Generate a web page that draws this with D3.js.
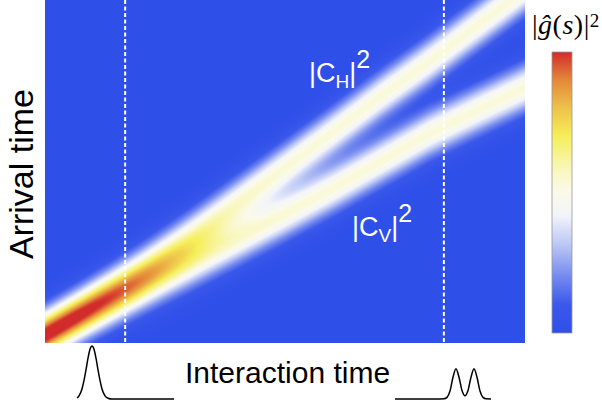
<!DOCTYPE html>
<html>
<head>
<meta charset="utf-8">
<script src="https://cdn.jsdelivr.net/npm/d3@7"></script>
<style>
  body { margin: 0; background: #fff; }
  svg { display: block; }
</style>
</head>
<body>
<div id="chart"></div>
<script>
// interaction time knots (arb. units) and the arrival time of each band centre
const interactionKnots = [0, 1, 2, 3, 4, 5, 6, 7, 8, 9, 10];
const arrivalH = [0.23, 1.17, 2.1, 3.08, 4.1, 5.12, 6.15, 7.2, 8.2, 9.25, 10.3];
const arrivalV = [0.23, 0.9, 1.58, 2.28, 3.0, 3.74, 4.5, 5.3, 6.1, 6.78, 7.45];
const bandPeak = [0.53, 0.53];   // |C_H|^2, |C_V|^2 peak of each band
const bandSigma = 0.47;          // band half width, arrival units
const dashedTimes = [1.67, 8.31];

// colour map of the colour bar
const cmapStops = [0, 0.1, 0.2, 0.32, 0.42, 0.5, 0.58, 0.7, 0.8, 0.9, 1.0];
const cmapColors = ["#2f4fe9", "#3a58ea", "#7489ef", "#bfcaf6", "#f3f4fa", "#fafaea",
                    "#f9f7bd", "#f6ee5a", "#eec24a", "#e4883a", "#d22b2b"];

// input pulse (single) and output pulse (double)
const pulseInT = [0, 2, 5, 7, 9, 11, 13, 15, 17, 19, 21, 23, 25, 28, 31, 35, 97];
const pulseInA = [0.02, 0.06, 0.19, 0.35, 0.55, 0.77, 0.94, 1, 0.94, 0.77, 0.55, 0.35, 0.19, 0.06, 0.015, 0, 0];
const pulseOutT = [0, 45, 49, 52, 55, 58, 61, 64, 67, 70, 73, 76, 79, 82, 85, 88, 91, 96];
const pulseOutA = [0, 0, 0.003, 0.03, 0.15, 0.41, 0.57, 0.41, 0.16, 0.06, 0.16, 0.41, 0.57, 0.41, 0.15, 0.03, 0.003, 0];

const W = 602, H = 407;
const plot = {left: 45, right: 525, top: 0, bottom: 343};

const svg = d3.select("#chart").append("svg")
    .attr("width", W)
    .attr("height", H);

const x = d3.scaleLinear().domain([0, 10]).range([plot.left, plot.right]);
const y = d3.scaleLinear().domain([0, 10]).range([plot.bottom, plot.top]);
const color = d3.scaleLinear().domain(cmapStops).range(cmapColors).clamp(true);

const hLine = d3.scaleLinear().domain(interactionKnots).range(arrivalH);
const vLine = d3.scaleLinear().domain(interactionKnots).range(arrivalV);

// heat map drawn into a canvas, then placed in the svg
const pw = plot.right - plot.left, ph = plot.bottom - plot.top;
const canvas = document.createElement("canvas");
canvas.width = pw;
canvas.height = ph;
const ctx = canvas.getContext("2d");
const img = ctx.createImageData(pw, ph);
const sPx = bandSigma * (y(0) - y(1));
for (let i = 0; i < pw; i++) {
  const t = x.invert(plot.left + i + 0.5);
  const cH = y(hLine(t)), cV = y(vLine(t));
  for (let j = 0; j < ph; j++) {
    const py = plot.top + j + 0.5;
    const v = bandPeak[0] * Math.exp(-((py - cH) ** 2) / (2 * sPx * sPx)) +
              bandPeak[1] * Math.exp(-((py - cV) ** 2) / (2 * sPx * sPx));
    const c = d3.rgb(color(v));
    const k = (j * pw + i) * 4;
    img.data[k] = c.r; img.data[k + 1] = c.g; img.data[k + 2] = c.b; img.data[k + 3] = 255;
  }
}
ctx.putImageData(img, 0, 0);

svg.append("image")
    .attr("x", plot.left)
    .attr("y", plot.top)
    .attr("width", pw)
    .attr("height", ph)
    .attr("href", canvas.toDataURL());

// dashed markers
svg.selectAll(".marker")
    .data(dashedTimes)
    .enter()
    .append("line")
    .attr("class", "marker")
    .attr("x1", d => x(d))
    .attr("x2", d => x(d))
    .attr("y1", plot.top)
    .attr("y2", plot.bottom)
    .attr("stroke", "#fff")
    .attr("stroke-width", 2)
    .attr("stroke-dasharray", "4,2.5");

// band labels
const sans = "'Liberation Sans', Arial, Helvetica, sans-serif";
function bandLabel(px, py, sub) {
  const t = svg.append("text")
      .attr("x", px)
      .attr("y", py)
      .attr("fill", "#fff")
      .style("font-family", sans)
      .style("font-size", "27px");
  t.append("tspan").text("|C");
  t.append("tspan").attr("dy", 6).style("font-size", "19px").text(sub);
  t.append("tspan").attr("dy", -6).text("|");
  t.append("tspan").attr("dy", -14).style("font-size", "25px").text("2");
}
bandLabel(309, 82, "H");
bandLabel(352, 236, "V");

// axis titles
svg.append("text")
    .attr("transform", "translate(33,174) rotate(-90)")
    .attr("text-anchor", "middle")
    .style("font-family", sans)
    .style("font-size", "34px")
    .text("Arrival time");

svg.append("text")
    .attr("x", 185)
    .attr("y", 383)
    .style("font-family", sans)
    .style("font-size", "30px")
    .text("Interaction time");

// pulses
const pulseY = d3.scaleLinear().domain([0, 1]).range([399, 346]);
const pIn = d3.scaleLinear().domain([0, 97]).range([77, 174]);
const pOut = d3.scaleLinear().domain([0, 96]).range([395, 491]);

const pulses = [
  {sx: pIn, pts: d3.zip(pulseInT, pulseInA)},
  {sx: pOut, pts: d3.zip(pulseOutT, pulseOutA)}
];
svg.selectAll(".pulse")
    .data(pulses)
    .enter()
    .append("path")
    .attr("class", "pulse")
    .attr("fill", "none")
    .attr("stroke", "#000")
    .attr("stroke-width", 1.5)
    .attr("d", p => d3.line()
        .x(d => p.sx(d[0]))
        .y(d => pulseY(d[1]))
        .curve(d3.curveMonotoneX)(p.pts));

// colour bar
const cb = {x: 552, w: 20, top: 52, bottom: 333};
const grad = svg.append("defs").append("linearGradient")
    .attr("id", "cbar")
    .attr("x1", 0).attr("y1", 1)
    .attr("x2", 0).attr("y2", 0);
grad.selectAll("stop")
    .data(cmapStops)
    .enter()
    .append("stop")
    .attr("offset", d => d)
    .attr("stop-color", (d, i) => cmapColors[i]);

svg.append("rect")
    .attr("x", cb.x)
    .attr("y", cb.top)
    .attr("width", cb.w)
    .attr("height", cb.bottom - cb.top)
    .attr("fill", "url(#cbar)")
    .attr("stroke", "#999")
    .attr("stroke-width", 0.8);

const lab = svg.append("text")
    .attr("x", 532)
    .attr("y", 34)
    .style("font-family", "'Liberation Serif', 'DejaVu Serif', serif")
    .style("font-size", "28px")
    .style("letter-spacing", "0.5px");
lab.append("tspan").text("|");
lab.append("tspan").style("font-style", "italic").text("ĝ");
lab.append("tspan").text("(");
lab.append("tspan").style("font-style", "italic").text("s");
lab.append("tspan").text(")|");
lab.append("tspan").attr("dy", -7).style("font-size", "19px").text("2");
</script>
</body>
</html>
